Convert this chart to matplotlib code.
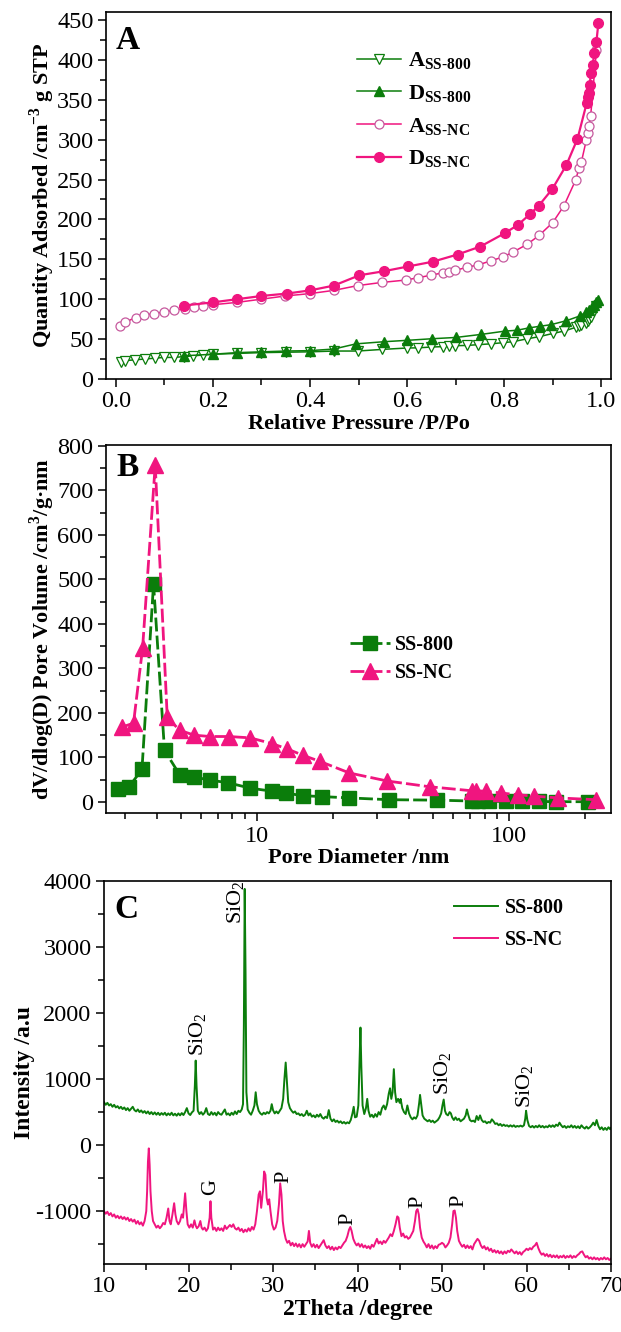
import matplotlib

matplotlib.use("Agg")
import matplotlib.pyplot as plt
from matplotlib.ticker import MultipleLocator, LogLocator, NullFormatter

# ---------------- panel A: N2 isotherms ----------------
p_ads_800 = [0.01, 0.02, 0.04, 0.06, 0.08, 0.10, 0.12, 0.14, 0.16, 0.18, 0.20, 0.25, 0.30, 0.35,
             0.40, 0.45, 0.498, 0.548, 0.60, 0.623, 0.649, 0.673, 0.686, 0.699, 0.723, 0.747,
             0.772, 0.798, 0.818, 0.848, 0.872, 0.90, 0.923, 0.947, 0.954, 0.959, 0.969, 0.972,
             0.975, 0.978, 0.99]
q_ads_800 = [21.7, 23, 24, 25, 26, 27, 27, 28, 29, 30, 31, 32, 33, 33.5, 34, 35, 35, 37, 38.8,
             39, 40, 40.5, 41, 41.7, 42, 43, 44, 45.5, 46.7, 50.4, 53, 57, 60, 64.6, 66, 67.5,
             70, 72.5, 74.6, 78, 92]
p_des_800 = [0.14, 0.20, 0.25, 0.30, 0.35, 0.40, 0.449, 0.495, 0.553, 0.60, 0.651, 0.70, 0.752,
             0.802, 0.826, 0.851, 0.873, 0.896, 0.928, 0.956, 0.969, 0.975, 0.98, 0.985, 0.99, 0.994]
q_des_800 = [29, 31, 33, 34, 35, 35.5, 37.5, 44, 46.7, 48.4, 50.4, 52, 55.8, 60, 61, 64, 66, 68,
             73, 79, 84, 87, 90, 93, 96.7, 98.8]
p_ads_nc = [0.008, 0.019, 0.041, 0.059, 0.079, 0.10, 0.12, 0.142, 0.161, 0.18, 0.20, 0.25, 0.30,
            0.349, 0.40, 0.449, 0.498, 0.548, 0.598, 0.623, 0.649, 0.673, 0.686, 0.699, 0.723,
            0.747, 0.772, 0.798, 0.818, 0.848, 0.872, 0.90, 0.923, 0.947, 0.954, 0.959, 0.969,
            0.972, 0.975, 0.978, 0.99]
q_ads_nc = [66.7, 71, 77, 80, 82, 84, 86, 88, 90, 91, 93, 96, 100, 104, 107, 111, 117, 121, 124,
            127, 130, 133, 134, 136, 140, 143, 148, 153, 159, 169, 180, 196, 217, 249, 264, 272,
            299, 308, 317, 329, 412]
p_des_nc = [0.14, 0.20, 0.25, 0.30, 0.352, 0.40, 0.449, 0.502, 0.552, 0.602, 0.653, 0.704, 0.751,
            0.802, 0.828, 0.854, 0.871, 0.899, 0.928, 0.951, 0.97, 0.972, 0.974, 0.976, 0.979,
            0.982, 0.986, 0.99, 0.994]
q_des_nc = [92, 96, 100, 104, 107, 111, 117, 130, 135, 141, 147, 156, 166, 183, 193, 207, 217, 238,
            268, 301, 346, 353, 358, 369, 384, 394, 408, 423, 446]

# ---------------- panel B: pore size distribution ----------------
d_800 = [2.81, 3.10, 3.50, 3.89, 4.30, 4.94, 5.64, 6.52, 7.7, 9.4, 11.5, 13.0, 15.2, 18.1, 23.3,
         33.4, 51.6, 71.5, 75.5, 83, 97, 113, 131, 154, 206]
v_800 = [30, 33, 73, 490, 116, 61, 56, 49, 43, 31, 24, 20, 14, 12, 9, 5, 4, 2, 1.5, 1.5, 1, 1, 1,
         0.5, 0.5]
d_nc = [2.91, 3.24, 3.52, 3.95, 4.41, 4.94, 5.64, 6.52, 7.74, 9.4, 11.5, 13.2, 15.2, 17.8, 23.3,
        32.9, 48.6, 71.5, 74.1, 81.3, 93, 109, 126, 157, 222]
v_nc = [168, 177, 346, 757, 190, 161, 150, 147, 147, 144, 131, 119, 105, 91, 65, 47, 34, 25, 25,
        24, 20, 16, 13, 9, 5]

# ---------------- panel C: XRD ----------------
tt_800 = [10.0, 10.2, 10.4, 10.6, 10.8, 11.0, 11.2, 11.4, 11.6, 11.8, 12.0, 12.2, 12.4, 12.6, 12.8,
          13.0, 13.2, 13.4, 13.6, 13.8, 14.0, 14.2, 14.4, 14.6, 14.8, 15.0, 15.2, 15.4, 15.6, 15.8,
          16.0, 16.2, 16.4, 16.6, 16.8, 17.0, 17.2, 17.4, 17.6, 17.8, 18.0, 18.2, 18.4, 18.6, 18.8,
          19.0, 19.2, 19.4, 19.6, 19.8, 20.0, 20.2, 20.4, 20.6, 20.75, 20.85, 20.95, 21.1, 21.3,
          21.5, 21.7, 21.9, 22.1, 22.3, 22.5, 22.7, 22.9, 23.1, 23.3, 23.5, 23.7, 23.9, 24.1, 24.3,
          24.5, 24.7, 24.9, 25.1, 25.3, 25.5, 25.7, 25.9, 26.1, 26.3, 26.45, 26.55, 26.65, 26.75,
          26.85, 27.0, 27.2, 27.4, 27.6, 27.8, 27.95, 28.1, 28.3, 28.5, 28.7, 28.9, 29.1, 29.3,
          29.5, 29.7, 29.85, 30.0, 30.2, 30.4, 30.6, 30.8, 31.0, 31.2, 31.35, 31.5, 31.65, 31.8,
          32.0, 32.2, 32.4, 32.6, 32.8, 33.0, 33.2, 33.4, 33.6, 33.8, 34.0, 34.2, 34.4, 34.6, 34.8,
          35.0, 35.2, 35.4, 35.6, 35.8, 36.0, 36.2, 36.4, 36.6, 36.8, 37.0, 37.2, 37.4, 37.6, 37.8,
          38.0, 38.2, 38.4, 38.6, 38.8, 39.0, 39.2, 39.4, 39.55, 39.7, 39.9, 40.1, 40.25, 40.35,
          40.45, 40.6, 40.8, 41.0, 41.15, 41.3, 41.5, 41.7, 41.9, 42.1, 42.3, 42.5, 42.7, 42.9,
          43.1, 43.3, 43.5, 43.7, 43.85, 44.0, 44.15, 44.3, 44.45, 44.6, 44.8, 45.0, 45.1, 45.3,
          45.5, 45.7, 45.9, 46.1, 46.3, 46.5, 46.7, 46.9, 47.1, 47.3, 47.4, 47.55, 47.7, 47.9,
          48.1, 48.3, 48.5, 48.7, 48.9, 49.1, 49.3, 49.5, 49.7, 49.9, 50.05, 50.2, 50.35, 50.5,
          50.7, 50.9, 51.05, 51.2, 51.4, 51.6, 51.8, 52.0, 52.2, 52.4, 52.6, 52.8, 52.95, 53.1,
          53.3, 53.5, 53.7, 53.9, 54.1, 54.3, 54.5, 54.7, 54.9, 55.1, 55.3, 55.5, 55.7, 55.9, 56.1,
          56.3, 56.5, 56.7, 56.9, 57.1, 57.3, 57.5, 57.7, 57.9, 58.1, 58.3, 58.5, 58.7, 58.9, 59.1,
          59.3, 59.5, 59.7, 59.85, 59.95, 60.1, 60.3, 60.5, 60.7, 60.9, 61.1, 61.3, 61.5, 61.7,
          61.9, 62.1, 62.3, 62.5, 62.7, 62.9, 63.1, 63.3, 63.5, 63.7, 63.9, 64.1, 64.3, 64.5, 64.7,
          64.9, 65.1, 65.3, 65.5, 65.7, 65.9, 66.1, 66.3, 66.5, 66.7, 66.9, 67.1, 67.3, 67.5, 67.7,
          67.9, 68.1, 68.3, 68.5, 68.7, 68.9, 69.1, 69.3, 69.5, 69.7, 69.9, 70.0]
int_800 = [650, 610, 640, 600, 620, 580, 610, 570, 590, 555, 580, 545, 570, 530, 560, 520, 550, 580,
           530, 510, 540, 500, 525, 490, 515, 480, 510, 470, 500, 465, 495, 460, 490, 455, 485, 460,
           490, 450, 480, 455, 490, 450, 475, 445, 480, 450, 485, 455, 500, 560, 480, 455, 495, 520,
           900, 1280, 900, 520, 470, 500, 460, 490, 560, 470, 455, 500, 460, 490, 450, 500, 470, 460,
           500, 540, 460, 480, 450, 490, 460, 510, 470, 520, 500, 540, 620, 1800, 3880, 2600, 800,
           540, 490, 460, 520, 600, 800, 620, 520, 480, 460, 490, 470, 500, 480, 520, 620, 530, 480,
           510, 480, 520, 560, 700, 1000, 1250, 950, 650, 560, 520, 490, 510, 470, 480, 450, 470,
           440, 460, 520, 450, 480, 430, 450, 420, 460, 430, 470, 420, 400, 430, 410, 530, 400, 360,
           390, 350, 370, 340, 360, 330, 350, 325, 345, 330, 380, 480, 580, 420, 430, 600, 1300,
           1780, 1200, 600, 470, 560, 700, 520, 430, 460, 420, 470, 430, 500, 460, 560, 600, 540,
           620, 780, 860, 700, 800, 1150, 800, 650, 700, 640, 700, 560, 500, 470, 600, 480, 420, 390,
           420, 400, 450, 640, 760, 600, 450, 400, 380, 360, 380, 350, 370, 340, 360, 380, 420, 480,
           600, 690, 520, 470, 450, 500, 480, 420, 380, 420, 380, 400, 360, 380, 400, 450, 540, 460,
           380, 360, 370, 350, 440, 380, 450, 380, 350, 360, 330, 350, 340, 390, 360, 320, 330, 300,
           320, 290, 310, 290, 300, 280, 300, 280, 300, 275, 290, 280, 295, 280, 300, 400, 520, 380,
           290, 270, 290, 265, 290, 270, 300, 270, 290, 265, 285, 270, 300, 275, 300, 275, 310, 290,
           340, 300, 270, 290, 260, 285, 270, 300, 265, 290, 260, 285, 255, 300, 270, 250, 280, 250,
           270, 300, 340, 300, 380, 290, 240, 270, 230, 260, 230, 270, 240, 260]

tt_nc = [10.0, 10.2, 10.4, 10.6, 10.8, 11.0, 11.2, 11.4, 11.6, 11.8, 12.0, 12.2, 12.4, 12.6, 12.8,
         13.0, 13.2, 13.4, 13.6, 13.8, 14.0, 14.2, 14.4, 14.6, 14.8, 15.0, 15.1, 15.2, 15.3, 15.4,
         15.5, 15.65, 15.8, 16.0, 16.2, 16.4, 16.6, 16.8, 17.0, 17.2, 17.4, 17.6, 17.75, 17.9, 18.1,
         18.3, 18.45, 18.6, 18.8, 19.0, 19.2, 19.35, 19.6, 19.75, 19.9, 20.1, 20.3, 20.5, 20.7,
         20.85, 21.0, 21.2, 21.4, 21.55, 21.7, 21.9, 22.1, 22.3, 22.5, 22.6, 22.7, 22.9, 23.1, 23.3,
         23.5, 23.7, 23.9, 24.1, 24.3, 24.5, 24.7, 24.9, 25.1, 25.3, 25.5, 25.7, 25.9, 26.1, 26.3,
         26.5, 26.7, 26.9, 27.1, 27.3, 27.5, 27.7, 27.9, 28.1, 28.3, 28.45, 28.6, 28.8, 28.95, 29.1,
         29.25, 29.4, 29.55, 29.7, 29.9, 30.1, 30.3, 30.5, 30.7, 30.85, 31.0, 31.15, 31.3, 31.5,
         31.7, 31.9, 32.1, 32.3, 32.5, 32.7, 32.9, 33.1, 33.3, 33.5, 33.7, 33.9, 34.1, 34.25, 34.4,
         34.6, 34.8, 35.0, 35.2, 35.4, 35.6, 35.8, 36.0, 36.2, 36.4, 36.6, 36.8, 37.0, 37.2, 37.4,
         37.6, 37.8, 38.0, 38.2, 38.4, 38.6, 38.8, 39.0, 39.15, 39.3, 39.5, 39.7, 39.9, 40.1, 40.3,
         40.5, 40.7, 40.9, 41.1, 41.3, 41.5, 41.7, 41.9, 42.1, 42.3, 42.5, 42.7, 42.9, 43.1, 43.3,
         43.5, 43.7, 43.9, 44.1, 44.3, 44.5, 44.7, 44.85, 45.0, 45.2, 45.4, 45.6, 45.8, 46.0, 46.2,
         46.4, 46.6, 46.8, 46.95, 47.1, 47.25, 47.4, 47.6, 47.8, 48.0, 48.2, 48.4, 48.6, 48.8, 49.0,
         49.2, 49.4, 49.6, 49.8, 50.0, 50.2, 50.4, 50.6, 50.8, 51.0, 51.2, 51.35, 51.5, 51.65, 51.8,
         52.0, 52.2, 52.4, 52.6, 52.8, 53.0, 53.2, 53.4, 53.6, 53.8, 54.0, 54.2, 54.4, 54.6, 54.8,
         55.0, 55.2, 55.4, 55.6, 55.8, 56.0, 56.2, 56.4, 56.6, 56.8, 57.0, 57.2, 57.4, 57.6, 57.8,
         58.0, 58.2, 58.4, 58.6, 58.8, 59.0, 59.2, 59.4, 59.6, 59.8, 60.0, 60.2, 60.4, 60.6, 60.8,
         61.0, 61.2, 61.4, 61.6, 61.8, 62.0, 62.2, 62.4, 62.6, 62.8, 63.0, 63.2, 63.4, 63.6, 63.8,
         64.0, 64.2, 64.4, 64.6, 64.8, 65.0, 65.2, 65.4, 65.6, 65.8, 66.0, 66.2, 66.4, 66.6, 66.8,
         67.0, 67.2, 67.4, 67.6, 67.8, 68.0, 68.2, 68.4, 68.6, 68.8, 69.0, 69.2, 69.4, 69.6, 69.8,
         70.0]
int_nc = [-1000, -1040, -1010, -1060, -1030, -1080, -1050, -1100, -1070, -1110, -1080, -1120, -1090,
          -1130, -1100, -1150, -1120, -1160, -1130, -1190, -1150, -1200, -1170, -1220, -1150, -1000,
          -700, -250, -50, -300, -700, -1000, -1150, -1200, -1250, -1220, -1260, -1230, -1180, -1200,
          -1100, -960, -1150, -1200, -1050, -880, -1050, -1150, -1200, -1150, -1050, -1100, -730,
          -1000, -1200, -1250, -1200, -1250, -1140, -1220, -1260, -1230, -1150, -1250, -1280, -1250,
          -1300, -1260, -1100, -850, -1100, -1280, -1250, -1300, -1250, -1290, -1260, -1300, -1220,
          -1270, -1240, -1210, -1240, -1200, -1260, -1280, -1250, -1300, -1270, -1320, -1280, -1310,
          -1260, -1300, -1240, -1280, -1200, -1000, -750, -700, -950, -700, -400, -450, -800, -900,
          -820, -1000, -1200, -1280, -1250, -1150, -900, -580, -750, -1150, -1300, -1420, -1480,
          -1450, -1520, -1480, -1530, -1490, -1540, -1500, -1550, -1500, -1540, -1500, -1460, -1300,
          -1480, -1540, -1500, -1550, -1510, -1560, -1520, -1480, -1440, -1520, -1560, -1530, -1580,
          -1540, -1590, -1550, -1580, -1540, -1560, -1520, -1480, -1450, -1380, -1280, -1240, -1300,
          -1420, -1480, -1520, -1490, -1540, -1500, -1550, -1520, -1560, -1530, -1570, -1510, -1540,
          -1480, -1420, -1490, -1460, -1500, -1450, -1480, -1440, -1400, -1350, -1380, -1300, -1200,
          -1080, -1100, -1250, -1380, -1340, -1400, -1380, -1420, -1400, -1350, -1300, -1150, -1000,
          -970, -1050, -1250, -1400, -1460, -1500, -1550, -1500, -1560, -1520, -1570, -1530, -1560,
          -1510, -1500, -1480, -1500, -1550, -1520, -1480, -1400, -1200, -1000, -990, -1100, -1300,
          -1450, -1500, -1540, -1510, -1560, -1520, -1560, -1530, -1580, -1500, -1460, -1420, -1450,
          -1520, -1560, -1530, -1580, -1550, -1600, -1570, -1620, -1590, -1630, -1600, -1640, -1610,
          -1650, -1610, -1640, -1600, -1620, -1580, -1610, -1640, -1610, -1650, -1620, -1660, -1620,
          -1600, -1570, -1590, -1560, -1580, -1540, -1520, -1480, -1560, -1620, -1660, -1640, -1680,
          -1650, -1690, -1660, -1700, -1670, -1700, -1670, -1710, -1680, -1700, -1670, -1710, -1680,
          -1700, -1670, -1710, -1680, -1700, -1670, -1650, -1620, -1610, -1660, -1700, -1680, -1720,
          -1700, -1730, -1700, -1730, -1710, -1740, -1710, -1730, -1700, -1730, -1710, -1740, -1720]

sio2_marks = [(21.2, 1350), (25.6, 3350), (50.2, 760), (59.9, 560)]
phase_marks = [("G", 22.6, -760), ("P", 31.3, -580), ("P", 38.9, -1210), ("P", 47.2, -960),
               ("P", 52.0, -935)]

GREEN = "#0b7d0b"
PINK = "#f0157f"
PURPLE = "#c65a9e"

plt.rcParams["font.family"] = ["Liberation Serif", "DejaVu Serif"]
plt.rcParams["mathtext.fontset"] = "custom"
plt.rcParams["mathtext.rm"] = "Liberation Serif"
plt.rcParams["mathtext.bf"] = "Liberation Serif:bold"
plt.rcParams["axes.linewidth"] = 1.2
plt.rcParams["axes.unicode_minus"] = False

TICK = 17.5
LAB = 16


def style(ax):
    ax.tick_params(which="both", direction="out", top=False, right=False, width=1.1,
                   labelsize=TICK)
    ax.tick_params(which="major", length=6, pad=3)
    ax.tick_params(which="minor", length=4)


fig = plt.figure(figsize=(6.21, 13.32), dpi=100)

# ---- A ----
axA = fig.add_axes([0.1707, 0.7155, 0.8132, 0.2755])
axA.plot(p_ads_800, q_ads_800, color=GREEN, lw=1.1, marker="v", ms=7, mfc="white", mec=GREEN,
         mew=0.9, label=r"$\mathbf{A}_{\mathbf{SS‐800}}$")
axA.plot(p_des_800, q_des_800, color=GREEN, lw=1.1, marker="^", ms=7, mfc=GREEN, mec=GREEN,
         label=r"$\mathbf{D}_{\mathbf{SS‐800}}$")
axA.plot(p_ads_nc, q_ads_nc, color=PINK, lw=1.1, marker="o", ms=6.5, mfc="white", mec=PURPLE,
         mew=0.9, label=r"$\mathbf{A}_{\mathbf{SS‐NC}}$")
axA.plot(p_des_nc, q_des_nc, color=PINK, lw=1.6, marker="o", ms=7, mfc=PINK, mec=PINK,
         label=r"$\mathbf{D}_{\mathbf{SS‐NC}}$")
axA.set_xlim(-0.02, 1.02)
axA.set_ylim(0, 460)
axA.xaxis.set_major_locator(MultipleLocator(0.2))
axA.xaxis.set_minor_locator(MultipleLocator(0.1))
axA.yaxis.set_major_locator(MultipleLocator(50))
axA.yaxis.set_minor_locator(MultipleLocator(25))
axA.xaxis.set_major_formatter(plt.FormatStrFormatter("%.1f"))
style(axA)
axA.set_xlabel("Relative Pressure /P/Po", fontsize=LAB, fontweight="bold", labelpad=1)
axA.set_ylabel(r"Quantity Adsorbed /cm$^{\mathbf{-3}}$ g STP", fontsize=LAB, fontweight="bold",
               labelpad=0)
axA.text(0.02, 0.965, "A", transform=axA.transAxes, fontsize=24, fontweight="bold",
         va="top", ha="left")
axA.legend(loc="upper left", bbox_to_anchor=(0.497, 0.895), frameon=False, fontsize=16,
           handlelength=2.0, handletextpad=0.3, labelspacing=0.5, borderpad=0,
           borderaxespad=0)

# ---- B ----
axB = fig.add_axes([0.1707, 0.3896, 0.8132, 0.2763])
axB.plot(d_800, v_800, color=GREEN, lw=2, ls=(0, (5, 1.5)), marker="s", ms=9.5, mfc=GREEN,
         mec=GREEN, label="SS-800")
axB.plot(d_nc, v_nc, color=PINK, lw=2, ls=(0, (5, 1.5)), marker="^", ms=11, mfc=PINK, mec=PINK,
         label="SS-NC")
axB.set_xscale("log")
axB.set_xlim(2.52, 254)
axB.set_ylim(-25, 802)
axB.xaxis.set_major_locator(LogLocator(base=10, numticks=10))
axB.xaxis.set_minor_locator(LogLocator(base=10, subs=range(2, 10), numticks=30))
axB.xaxis.set_minor_formatter(NullFormatter())
axB.xaxis.set_major_formatter(plt.FuncFormatter(lambda v, p: f"{v:g}"))
axB.yaxis.set_major_locator(MultipleLocator(100))
axB.yaxis.set_minor_locator(MultipleLocator(50))
style(axB)
axB.set_xlabel("Pore Diameter /nm", fontsize=LAB, fontweight="bold", labelpad=1)
axB.set_ylabel(r"dV/dlog(D) Pore Volume /cm$^{\mathbf{3}}$/g·nm", fontsize=LAB,
               fontweight="bold", labelpad=0)
axB.text(0.02, 0.98, "B", transform=axB.transAxes, fontsize=24, fontweight="bold",
         va="top", ha="left")
axB.legend(loc="upper left", bbox_to_anchor=(0.483, 0.485), frameon=False,
           prop={"size": 14.5, "weight": "bold"}, handlelength=2.0, handletextpad=0.25,
           labelspacing=0.42, borderpad=0, borderaxespad=0)

# ---- C ----
axC = fig.add_axes([0.1675, 0.0511, 0.8164, 0.2875])
axC.plot(tt_800, int_800, color=GREEN, lw=1.4, label="SS-800")
axC.plot(tt_nc, int_nc, color=PINK, lw=1.4, label="SS-NC")
axC.set_xlim(10, 70)
axC.set_ylim(-1800, 4000)
axC.xaxis.set_major_locator(MultipleLocator(10))
axC.xaxis.set_minor_locator(MultipleLocator(5))
axC.yaxis.set_major_locator(MultipleLocator(1000))
axC.yaxis.set_minor_locator(MultipleLocator(500))
style(axC)
axC.set_xlabel("2Theta /degree", fontsize=LAB + 1, fontweight="bold", labelpad=1)
axC.set_ylabel("Intensity /a.u", fontsize=LAB + 1, fontweight="bold", labelpad=0)
axC.text(0.02, 0.965, "C", transform=axC.transAxes, fontsize=24, fontweight="bold",
         va="top", ha="left")
for x, y in sio2_marks:
    axC.text(x, y, r"SiO$_2$", rotation=90, ha="center", va="bottom", fontsize=16)
for s, x, y in phase_marks:
    axC.text(x, y, s, rotation=90, ha="center", va="bottom", fontsize=16)
axC.legend(loc="upper left", bbox_to_anchor=(0.69, 0.955), frameon=False,
           prop={"size": 14.5, "weight": "bold"}, handlelength=2.2, handletextpad=0.35,
           labelspacing=0.6, borderpad=0, borderaxespad=0)

fig.savefig("out.png", dpi=100)
